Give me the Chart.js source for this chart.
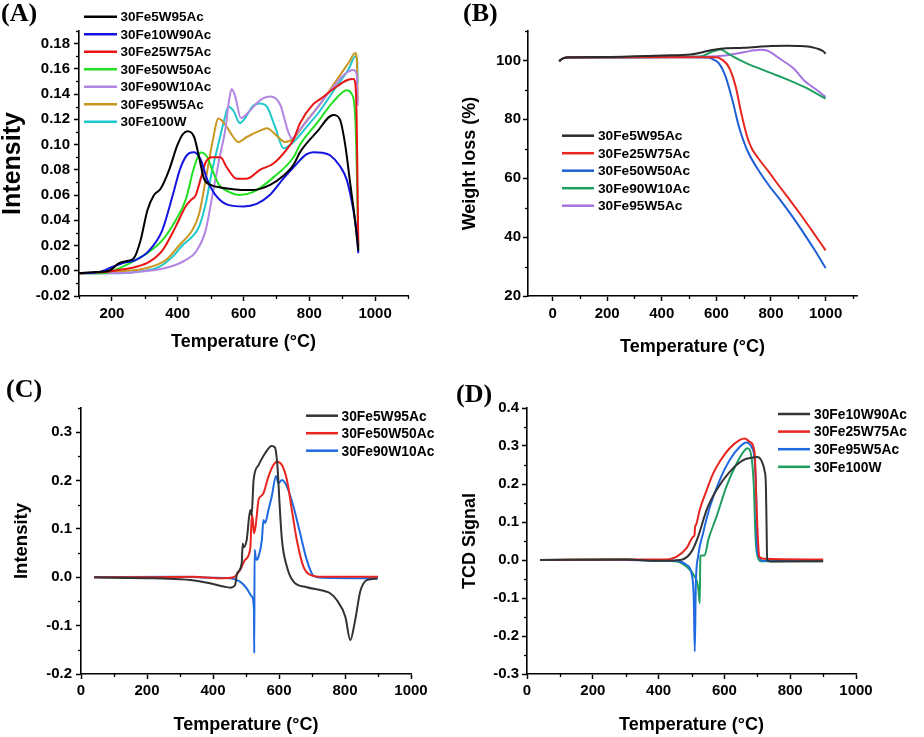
<!DOCTYPE html>
<html><head><meta charset="utf-8">
<script src="https://cdn.jsdelivr.net/npm/chart.js@4/dist/chart.umd.min.js"></script>
<style>
html,body{margin:0;padding:0;background:#fff;}
#wrap{position:relative;width:924px;height:737px;overflow:hidden;background:#fff;}
#wrap canvas{position:absolute;}
.plab{position:absolute;font-family:'Liberation Serif','Times New Roman',serif;font-weight:bold;font-size:26px;line-height:1;color:#000;white-space:nowrap;}
</style></head><body>
<div id="wrap">
<canvas id="cA" style="left:0;top:0" width="462" height="360"></canvas>
<canvas id="cB" style="left:462px;top:0" width="462" height="360"></canvas>
<canvas id="cC" style="left:0;top:360px" width="462" height="377"></canvas>
<canvas id="cD" style="left:462px;top:360px" width="462" height="377"></canvas>
<div class="plab" style="left:1px;top:0px">(A)</div>
<div class="plab" style="left:463px;top:0px">(B)</div>
<div class="plab" style="left:6px;top:376px">(C)</div>
<div class="plab" style="left:456px;top:381px">(D)</div>
</div>
<script>
// ---------- Panel A : Intensity vs Temperature ----------
const A_xTicks = [200, 400, 600, 800, 1000];
const A_yTicks = [-0.02, 0, 0.02, 0.04, 0.06, 0.08, 0.10, 0.12, 0.14, 0.16, 0.18];
const A_30Fe5W95Ac = [[100,-0.002],[150,-0.001],[191,0.000],[222,0.006],[250,0.008],[267,0.010],[287,0.024],[308,0.048],[328,0.060],[348,0.065],[374,0.080],[399,0.0995],[415,0.108],[429,0.1106],[450,0.106],[465,0.090],[480,0.073],[500,0.068],[530,0.066],[556,0.065],[600,0.064],[630,0.064],[681,0.068],[720,0.075],[752,0.084],[772,0.094],[823,0.110],[873,0.1235],[893,0.120],[909,0.100],[924,0.070],[939,0.040],[949,0.016]];
const A_30Fe10W90Ac = [[100,-0.002],[160,-0.001],[201,0.003],[232,0.006],[272,0.0085],[313,0.016],[353,0.032],[384,0.059],[409,0.082],[434,0.093],[450,0.094],[470,0.088],[490,0.072],[515,0.060],[556,0.052],[600,0.051],[640,0.053],[680,0.060],[721,0.073],[752,0.082],[790,0.092],[812,0.094],[840,0.0935],[863,0.0915],[893,0.083],[914,0.072],[934,0.048],[944,0.030],[949,0.014]];
const A_30Fe25W75Ac = [[100,-0.002],[180,-0.001],[230,0.001],[272,0.003],[313,0.007],[353,0.016],[394,0.035],[424,0.051],[440,0.056],[455,0.060],[470,0.073],[485,0.086],[505,0.090],[530,0.090],[549,0.082],[579,0.073],[610,0.073],[650,0.080],[691,0.085],[731,0.096],[752,0.104],[772,0.117],[812,0.132],[833,0.136],[873,0.144],[914,0.151],[934,0.152],[940,0.148],[944,0.120],[947,0.060],[949,0.019]];
const A_30Fe50W50Ac = [[100,-0.002],[170,-0.002],[222,0.002],[272,0.0085],[313,0.015],[353,0.024],[394,0.040],[424,0.056],[450,0.082],[470,0.0937],[490,0.090],[505,0.080],[526,0.068],[556,0.0625],[589,0.060],[630,0.0625],[691,0.074],[752,0.090],[772,0.100],[823,0.117],[873,0.134],[914,0.143],[929,0.140],[939,0.125],[944,0.085],[949,0.016]];
const A_30Fe90W10Ac = [[100,-0.002],[200,-0.002],[313,0.000],[374,0.003],[424,0.0085],[455,0.015],[485,0.032],[505,0.059],[526,0.088],[546,0.114],[556,0.135],[564,0.144],[575,0.138],[592,0.121],[620,0.127],[650,0.135],[681,0.138],[711,0.132],[736,0.110],[747,0.105],[772,0.112],[812,0.125],[850,0.138],[880,0.148],[904,0.155],[934,0.159],[944,0.156],[947,0.131]];
const A_30Fe95W5Ac = [[100,-0.002],[200,-0.001],[250,0.000],[303,0.002],[364,0.0085],[404,0.020],[444,0.032],[465,0.045],[485,0.072],[505,0.101],[524,0.1206],[549,0.114],[569,0.106],[584,0.102],[610,0.106],[650,0.111],[671,0.113],[701,0.107],[726,0.102],[752,0.105],[792,0.119],[833,0.132],[880,0.150],[920,0.165],[940,0.1725],[945,0.165],[947,0.135]];
const A_30Fe100W = [[100,-0.002],[200,-0.002],[300,0.000],[343,0.003],[384,0.011],[414,0.020],[444,0.027],[465,0.035],[485,0.053],[505,0.080],[526,0.103],[541,0.119],[554,0.130],[569,0.127],[589,0.117],[605,0.121],[630,0.131],[650,0.1325],[671,0.130],[696,0.114],[722,0.097],[752,0.102],[792,0.114],[833,0.127],[880,0.145],[920,0.160],[940,0.170],[945,0.168],[947,0.148]];

// ---------- Panel B : Weight loss ----------
const B_xTicks = [0, 200, 400, 600, 800, 1000];
const B_yTicks = [20, 40, 60, 80, 100];
const B_30Fe5W95Ac = [[24,99.8],[40,100.8],[60,101.1],[200,101.2],[300,101.4],[402,101.7],[506,102.0],[540,102.6],[567,103.2],[616,104.0],[701,104.3],[799,104.9],[860,105.0],[909,104.9],[950,104.5],[970,104.0],[990,103.2],[1000,102.3]];
const B_30Fe25W75Ac = [[24,99.8],[40,100.8],[60,101.0],[300,101.1],[500,101.1],[598,101.1],[622,100.2],[646,97.7],[671,91],[689,83],[713,74],[730,70],[750,67.2],[790,62.4],[823,58.2],[870,52.5],[909,47.6],[950,42.2],[1000,35.5]];
const B_30Fe50W50Ac = [[24,99.8],[40,100.8],[60,101.0],[300,101.1],[500,101.1],[570,101.0],[590,100.3],[610,98.9],[634,94.4],[659,86.4],[683,77.4],[713,69.5],[762,61.6],[800,56.6],[835,52.5],[880,46.8],[921,41.2],[960,35.6],[1000,29.5]];
const B_30Fe90W10Ac = [[24,99.8],[40,100.8],[60,101.0],[300,101.1],[540,101.3],[580,102.8],[616,103.7],[640,102.5],[665,101.1],[713,98.9],[823,94.9],[921,91],[1000,87]];
const B_30Fe95W5Ac = [[24,99.8],[40,100.8],[60,101.0],[300,101.1],[550,101.3],[640,101.8],[700,102.8],[762,103.6],[785,103.4],[835,100.4],[884,97.2],[921,93.2],[945,91.5],[970,89.8],[1000,87.6]];

// ---------- Panel C : Intensity ----------
const C_xTicks = [0, 200, 400, 600, 800, 1000];
const C_yTicks = [-0.2, -0.1, 0, 0.1, 0.2, 0.3];
const C_30Fe5W95Ac = [[40,0],[100,-0.001],[200,-0.002],[300,-0.004],[331,-0.0056],[391,-0.0125],[432,-0.019],[452,-0.0215],[467,-0.016],[473,0.008],[487,0.029],[490,0.070],[493,0.062],[502,0.077],[513,0.139],[517,0.128],[523,0.201],[538,0.232],[558,0.2565],[578,0.2716],[588,0.268],[594,0.240],[598,0.200],[601,0.160],[609,0.077],[624,0.022],[644,-0.009],[684,-0.0207],[735,-0.028],[755,-0.033],[775,-0.047],[801,-0.0815],[816,-0.130],[831,-0.088],[846,-0.030],[866,-0.006],[897,-0.003]];
const C_30Fe50W50Ac = [[40,0],[200,0.000],[340,0.001],[420,-0.002],[462,0],[482,0.015],[497,0.036],[513,0.060],[518,0.130],[521,0.115],[524,0.091],[529,0.105],[538,0.160],[544,0.167],[553,0.174],[568,0.208],[583,0.232],[594,0.239],[609,0.232],[624,0.201],[639,0.139],[654,0.077],[674,0.022],[695,0.005],[735,0.001],[900,0.001]];
const C_30Fe90W10Ac = [[40,0],[300,0.001],[400,-0.001],[452,-0.002],[482,-0.009],[502,-0.023],[518,-0.040],[524,-0.065],[525,-0.157],[526,0.057],[531,0.036],[538,0.0426],[548,0.077],[553,0.1186],[558,0.112],[568,0.139],[578,0.167],[591,0.2096],[598,0.1945],[609,0.201],[624,0.1875],[644,0.146],[664,0.091],[684,0.036],[705,0.003],[735,-0.001],[900,-0.002]];

// ---------- Panel D : TCD Signal ----------
const D_xTicks = [0, 200, 400, 600, 800, 1000];
const D_yTicks = [-0.3, -0.2, -0.1, 0, 0.1, 0.2, 0.3, 0.4];
const D_30Fe10W90Ac = [[40,0],[300,0.001],[400,-0.002],[450,-0.001],[475,0.002],[500,0.022],[520,0.061],[546,0.132],[576,0.184],[616,0.232],[657,0.263],[687,0.270],[700,0.271],[714,0.259],[722,0.235],[726,0.200],[728,0.100],[730,0.000],[740,-0.004],[900,-0.003]];
const D_30Fe25W75Ac = [[40,0],[300,0.001],[414,0.001],[455,0.009],[485,0.031],[505,0.061],[509,0.065],[511,0.088],[514,0.093],[525,0.132],[546,0.184],[566,0.228],[586,0.259],[616,0.294],[647,0.316],[662,0.320],[677,0.311],[692,0.281],[697,0.158],[702,0.053],[706,0.009],[720,0.003],[900,0.001]];
const D_30Fe95W5Ac = [[40,0],[300,0.000],[400,-0.001],[455,-0.002],[485,-0.013],[500,-0.035],[507,-0.105],[510,-0.241],[513,-0.070],[520,0.009],[535,0.070],[556,0.140],[586,0.211],[616,0.263],[647,0.298],[667,0.309],[682,0.298],[692,0.263],[697,0.158],[699,0.035],[704,0.009],[715,-0.002],[900,-0.002]];
const D_30Fe100W = [[40,0],[300,0.001],[400,-0.002],[455,-0.004],[485,-0.018],[510,-0.044],[520,-0.070],[525,-0.114],[527,0.009],[530,0.012],[540,0.012],[551,0.053],[576,0.114],[606,0.193],[637,0.254],[662,0.289],[670,0.294],[682,0.272],[689,0.202],[695,0.053],[700,0.013],[710,-0.003],[900,-0.003]];

// ---------- rendering ----------
const FONT = "'Liberation Sans', Arial, Helvetica, sans-serif";
Chart.defaults.font.family = FONT;
Chart.defaults.color = '#000';

function minorsFrom(majors, min, max) {
  const step = majors[1] - majors[0];
  const out = [];
  for (let v = majors[0] - step / 2; v <= max + step * 1e-6; v += step) {
    if (v >= min - step * 1e-6) out.push(v);
  }
  return out;
}

const lineLegend = {
  id: 'lineLegend',
  afterDraw(chart, args, o) {
    const ctx = chart.ctx;
    ctx.save();
    ctx.font = 'bold ' + o.size + 'px ' + FONT;
    ctx.textBaseline = 'middle';
    ctx.textAlign = 'left';
    chart.data.datasets.forEach((ds, i) => {
      const y = o.y + i * o.row;
      ctx.strokeStyle = ds.borderColor;
      ctx.lineWidth = 2.5;
      ctx.beginPath(); ctx.moveTo(o.x, y); ctx.lineTo(o.x + o.len, y); ctx.stroke();
      ctx.fillStyle = '#000';
      ctx.fillText(ds.label, o.x + o.len + o.gap, y + 1);
    });
    ctx.restore();
  }
};

const minorTicks = {
  id: 'minorTicks',
  afterDraw(chart, args, o) {
    const ctx = chart.ctx, xs = chart.scales.x, ys = chart.scales.y;
    ctx.save();
    ctx.strokeStyle = '#000';
    ctx.lineWidth = 1.3;
    (o.x || []).forEach(v => {
      const p = Math.round(xs.getPixelForValue(v)) + 0.5;
      ctx.beginPath(); ctx.moveTo(p, xs.top); ctx.lineTo(p, xs.top + 3); ctx.stroke();
    });
    (o.y || []).forEach(v => {
      const p = Math.round(ys.getPixelForValue(v)) + 0.5;
      ctx.beginPath(); ctx.moveTo(ys.right, p); ctx.lineTo(ys.right - 3, p); ctx.stroke();
    });
    ctx.restore();
  }
};

function series(label, pts, color) {
  return {
    label: label,
    data: pts.map(p => ({ x: p[0], y: p[1] })),
    borderColor: color,
    backgroundColor: color,
    showLine: true,
    pointRadius: 0,
    borderWidth: 2,
    fill: false,
    cubicInterpolationMode: 'monotone'
  };
}

function axis(c) {
  return {
    type: 'linear',
    min: c.min, max: c.max,
    afterBuildTicks: s => { s.ticks = c.ticks.map(v => ({ value: v })); },
    afterFit: s => { if (c.w !== undefined) s.width = c.w; if (c.h !== undefined) s.height = c.h; },
    ticks: {
      autoSkip: false, maxRotation: 0,
      padding: c.pad,
      color: '#000',
      font: { size: 15, weight: 'bold' },
      callback: v => c.fmt(v)
    },
    grid: { display: true, drawOnChartArea: false, drawTicks: true, tickLength: 5, color: '#000', tickColor: '#000', tickWidth: 1.5 },
    border: { display: true, color: '#000', width: 1.6 },
    title: { display: true, text: c.title, color: '#000', font: { size: c.tsize, weight: c.tweight || 'bold', lineHeight: c.tlh || 1.2 }, padding: c.tpad }
  };
}

function makeChart(id, datasets, c) {
  return new Chart(document.getElementById(id), {
    type: 'scatter',
    data: { datasets: datasets },
    options: {
      responsive: false, animation: false, devicePixelRatio: 1,
      layout: { padding: c.padding },
      plugins: {
        legend: { display: false },
        tooltip: { enabled: false },
        lineLegend: c.legend,
        minorTicks: { x: minorsFrom(c.x.ticks, c.x.min, c.x.max), y: minorsFrom(c.y.ticks, c.y.min, c.y.max) }
      },
      scales: { x: axis(c.x), y: axis(c.y) }
    },
    plugins: [lineLegend, minorTicks]
  });
}

const f0 = v => String(Math.round(v));
const f1 = v => (Math.abs(v) < 1e-9 ? 0 : v).toFixed(1);
const f2 = v => (Math.abs(v) < 1e-9 ? 0 : v).toFixed(2);
const TITLE_T = 'Temperature (\u00B0C)';

makeChart('cA', [
  series('30Fe5W95Ac', A_30Fe5W95Ac, '#000000'),
  series('30Fe10W90Ac', A_30Fe10W90Ac, '#1414e0'),
  series('30Fe25W75Ac', A_30Fe25W75Ac, '#e81414'),
  series('30Fe50W50Ac', A_30Fe50W50Ac, '#22e022'),
  series('30Fe90W10Ac', A_30Fe90W10Ac, '#b385e3'),
  series('30Fe95W5Ac', A_30Fe95W5Ac, '#c9961f'),
  series('30Fe100W', A_30Fe100W, '#1ec8cc')
], {
  padding: { left: 0, top: 31, right: 54, bottom: 0 },
  x: { min: 100, max: 1100, ticks: A_xTicks, fmt: f0, h: 64, pad: 4, title: TITLE_T, tsize: 18, tpad: { top: 0, bottom: 7.5 } },
  y: { min: -0.02, max: 0.19, ticks: A_yTicks, fmt: f2, w: 79, pad: 4, title: 'Intensity', tsize: 25, tlh: 1, tpad: { top: 0.5, bottom: 0 } },
  legend: { x: 84, y: 16.7, len: 33, gap: 3.5, row: 17.5, size: 13.5 }
});

makeChart('cB', [
  series('30Fe5W95Ac', B_30Fe5W95Ac, '#2b2b2b'),
  series('30Fe25W75Ac', B_30Fe25W75Ac, '#e8251f'),
  series('30Fe50W50Ac', B_30Fe50W50Ac, '#1f5fd6'),
  series('30Fe90W10Ac', B_30Fe90W10Ac, '#1f9f5f'),
  series('30Fe95W5Ac', B_30Fe95W5Ac, '#a474e0')
], {
  padding: { left: 0, top: 31, right: 67, bottom: 0 },
  x: { min: -90, max: 1115, ticks: B_xTicks, fmt: f0, h: 64, pad: 4, title: TITLE_T, tsize: 18, tpad: { top: 0, bottom: 2.5 } },
  y: { min: 20, max: 110, ticks: B_yTicks, fmt: f0, w: 66, pad: 2, title: 'Weight loss (%)', tsize: 18, tlh: 1, tpad: { top: -1, bottom: 0 } },
  legend: { x: 100, y: 135.7, len: 32, gap: 4, row: 17.5, size: 13.7 }
});

makeChart('cC', [
  series('30Fe5W95Ac', C_30Fe5W95Ac, '#333333'),
  series('30Fe50W50Ac', C_30Fe50W50Ac, '#e8251f'),
  series('30Fe90W10Ac', C_30Fe90W10Ac, '#1f6ae0')
], {
  padding: { left: 0, top: 48, right: 51, bottom: 0 },
  x: { min: 0, max: 1000, ticks: C_xTicks, fmt: f0, h: 63, pad: 3, title: TITLE_T, tsize: 18, tpad: { top: 0, bottom: 1.2 } },
  y: { min: -0.2, max: 0.35, ticks: C_yTicks, fmt: f1, w: 81, pad: 4, title: 'Intensity', tsize: 18.5, tlh: 1, tpad: { top: 12.4, bottom: 0 } },
  legend: { x: 306, y: 55.7, len: 32, gap: 3.5, row: 17.5, size: 13.8 }
});

makeChart('cD', [
  series('30Fe10W90Ac', D_30Fe10W90Ac, '#333333'),
  series('30Fe25W75Ac', D_30Fe25W75Ac, '#e8251f'),
  series('30Fe95W5Ac', D_30Fe95W5Ac, '#1f6ae0'),
  series('30Fe100W', D_30Fe100W, '#1f9f5f')
], {
  padding: { left: 0, top: 48, right: 68, bottom: 0 },
  x: { min: 0, max: 1000, ticks: D_xTicks, fmt: f0, h: 63, pad: 3, title: TITLE_T, tsize: 18, tpad: { top: 0, bottom: 1.2 } },
  y: { min: -0.3, max: 0.4, ticks: D_yTicks, fmt: f1, w: 65, pad: 3, title: 'TCD Signal', tsize: 18, tlh: 1, tpad: { top: -1, bottom: 0 } },
  legend: { x: 316, y: 54, len: 32, gap: 4, row: 17.6, size: 13.8 }
});
</script>
</body></html>
